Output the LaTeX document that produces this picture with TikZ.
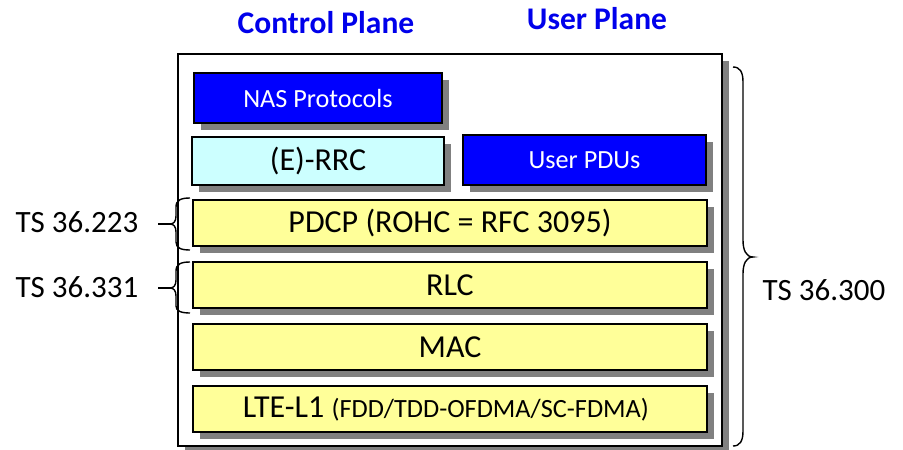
\documentclass[tikz,border=0pt]{standalone}
\usepackage{fontspec}
\setmainfont{Carlito}
\usetikzlibrary{shadows}
\definecolor{layeryellow}{RGB}{255,255,153}
\definecolor{rrccyan}{RGB}{204,255,255}
\definecolor{nasblue}{RGB}{0,0,255}
\definecolor{planeblue}{RGB}{0,0,235}
\definecolor{shadowgray}{RGB}{128,128,128}
\tikzset{
  shadowed/.style={drop shadow={shadow xshift=7pt, shadow yshift=-7pt, fill=shadowgray, opacity=1}},
  layer/.style={shadowed, draw=black, line width=1.8pt, inner sep=0pt, align=center,
                font=\fontsize{32}{37}\selectfont},
  yellowlayer/.style={layer, fill=layeryellow, minimum width=514pt, minimum height=46pt},
  bluelayer/.style={layer, fill=nasblue, text=white, font=\fontsize{26.2}{30}\selectfont},
  planelabel/.style={text=planeblue, font=\fontsize{31.5}{36}\selectfont\bfseries},
  speclabel/.style={font=\fontsize{31}{36}\selectfont},
  bracket/.style={draw=black, line width=1.4pt}
}
\begin{document}
\begin{tikzpicture}[x=1pt, y=-1pt]
  \useasboundingbox (0,0) rectangle (903,450);

  % plane headings
  \node[planelabel] (cp) at (326,23) {Control Plane};
  \node[planelabel] (up) at (597,19) {User Plane};

  % enclosing protocol stack frame
  \node[shadowed, draw=black, fill=white, line width=1.1pt, minimum width=544pt,
        minimum height=392pt, inner sep=0pt] (stack) at (450,250) {};

  % upper layers
  \node[bluelayer, minimum width=248pt, minimum height=50pt] (nas) at (318,98) {NAS Protocols};
  \node[layer, fill=rrccyan, minimum width=252pt, minimum height=48pt] (rrc) at (318,161) {(E)-RRC};
  \node[bluelayer, minimum width=243pt, minimum height=50pt] (updu) at (584.5,160) {User PDUs};

  % common layers
  \node[yellowlayer] (pdcp) at (450,223) {PDCP (ROHC = RFC 3095)};
  \node[yellowlayer] (rlc) at (450,285) {RLC};
  \node[yellowlayer] (mac) at (450,347) {MAC};
  \node[yellowlayer] (l1) at (450,409) {LTE-L1 {\fontsize{26.3}{30}\selectfont(FDD/TDD-OFDMA/SC-FDMA)}\hspace*{8pt}};

  % left braces with specification labels
  \draw[bracket] (190,198) .. controls (181,198) and (176,200) .. (176,207) -- (176,216)
     .. controls (176,221) and (174,224) .. (170,224)
     .. controls (174,224) and (176,227) .. (176,232) -- (176,242)
     .. controls (176,248) and (181,250) .. (190,250);
  \draw[bracket] (170,224) -- (158,224);
  \node[speclabel] (ts223) at (77,222) {TS 36.223};

  \draw[bracket] (190,262) .. controls (181,262) and (176,264) .. (176,271) -- (176,280)
     .. controls (176,285) and (174,288) .. (170,288)
     .. controls (174,288) and (176,291) .. (176,296) -- (176,306)
     .. controls (176,311) and (181,313) .. (190,313);
  \draw[bracket] (170,288) -- (158,288);
  \node[speclabel] (ts331) at (77,287) {TS 36.331};

  % right brace spanning the whole stack
  \draw[bracket] (733,67) .. controls (740,67) and (743,72) .. (743,82) -- (743,240)
     .. controls (743,250) and (746,257) .. (753,257)
     .. controls (746,257) and (743,264) .. (743,274) -- (743,431)
     .. controls (743,441) and (740,446) .. (733,446);
  \node[speclabel] (ts300) at (824,290) {TS 36.300};
\end{tikzpicture}
\end{document}
